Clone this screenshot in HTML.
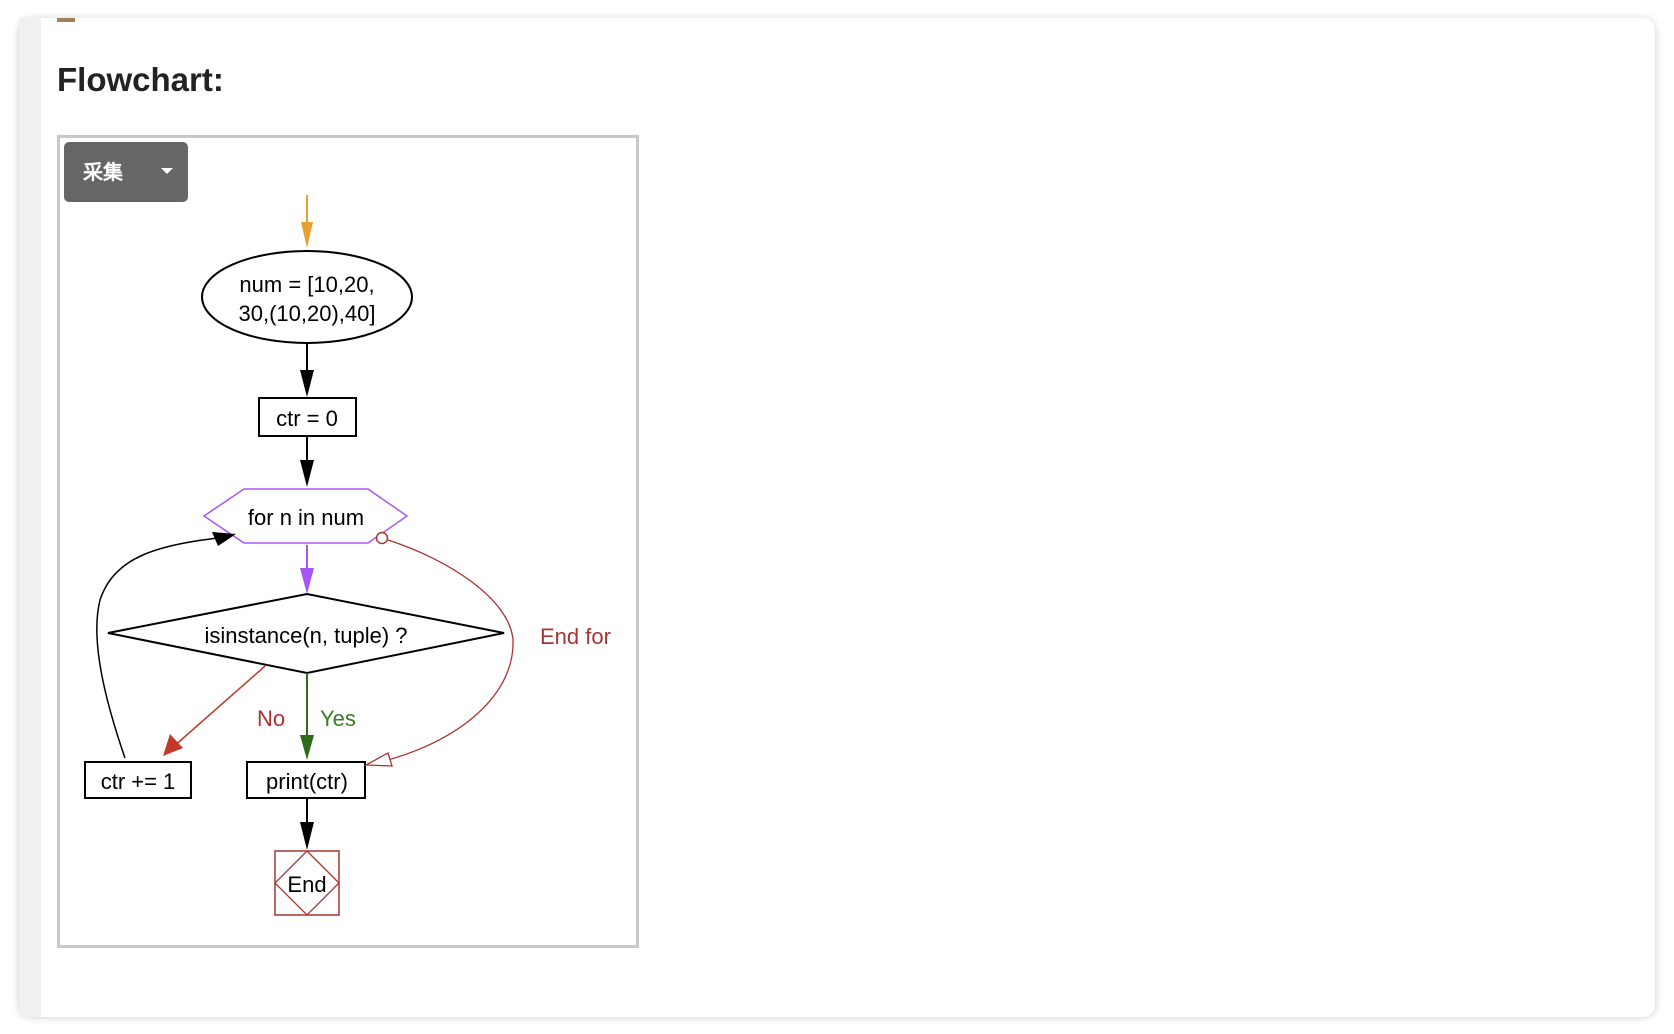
<!DOCTYPE html>
<html><head><meta charset="utf-8"><style>
html,body{margin:0;padding:0;background:#fff;width:1674px;height:1034px;overflow:hidden}
svg{display:block}
text{font-family:"Liberation Sans",Arial,sans-serif}
</style></head><body>
<svg width="1674" height="1034" viewBox="0 0 1674 1034" xmlns="http://www.w3.org/2000/svg">
<defs>
<filter id="sh" x="-5%" y="-5%" width="110%" height="110%"><feGaussianBlur stdDeviation="4"/></filter>
<marker id="ab" viewBox="0 0 10 10" refX="9" refY="5" markerWidth="10" markerHeight="10" markerUnits="userSpaceOnUse" orient="auto"><path d="M0,2 L10,5 L0,8z" fill="#000"/></marker>
</defs>
<rect x="0" y="0" width="1674" height="1034" fill="#fff"/>
<rect x="19" y="19" width="1636" height="998" rx="12" fill="#ccc" filter="url(#sh)"/>
<rect x="19" y="18" width="1636" height="999" rx="12" fill="#fff"/>
<rect x="19" y="18" width="22" height="999" fill="#f0f0f0"/>
<rect x="57" y="18" width="18" height="4" fill="#a0805f"/>
<text x="57" y="91" font-size="33" font-weight="bold" fill="#222">Flowchart:</text>
<rect x="58.5" y="136.5" width="579" height="810" fill="#fff" stroke="#c8c8c8" stroke-width="3"/>
<rect x="64" y="142" width="124" height="60" rx="5" fill="#666"/>
<text x="83" y="179" font-size="20" font-weight="bold" fill="#fff" font-family="'Liberation Sans','Noto Sans CJK SC',sans-serif">采集</text>
<path d="M161,168 L173,168 L167,174z" fill="#fff"/>
<!-- orange arrow -->
<line x1="307" y1="195" x2="307" y2="232" stroke="#e8a030" stroke-width="2"/>
<path d="M301,222 L313,222 L307,248z" fill="#e8a030"/>
<ellipse cx="307" cy="297" rx="105" ry="46" fill="#fff" stroke="#000" stroke-width="2"/>
<text x="307" y="292" font-size="22" text-anchor="middle">num = [10,20,</text>
<text x="307" y="321" font-size="22" text-anchor="middle">30,(10,20),40]</text>
<line x1="307" y1="343" x2="307" y2="380" stroke="#000" stroke-width="2"/>
<path d="M300,370 L314,370 L307,397z" fill="#000"/>
<rect x="259" y="398" width="97" height="38" fill="#fff" stroke="#000" stroke-width="2"/>
<text x="307" y="426" font-size="22" text-anchor="middle">ctr = 0</text>
<line x1="307" y1="436" x2="307" y2="470" stroke="#000" stroke-width="2"/>
<path d="M300,460 L314,460 L307,487z" fill="#000"/>
<path d="M204,516 L244,489 L368,489 L407,516 L368,543 L244,543z" fill="#fff" stroke="#a855f7" stroke-width="1.5"/>
<text x="306" y="525" font-size="22" text-anchor="middle">for n in num</text>
<line x1="307" y1="545" x2="307" y2="578" stroke="#a855f7" stroke-width="2"/>
<path d="M300,568 L314,568 L307,594z" fill="#a855f7"/>
<path d="M108,633 L307,594 L504,633 L307,673z" fill="#fff" stroke="#000" stroke-width="2"/>
<text x="306" y="643" font-size="22" text-anchor="middle">isinstance(n, tuple) ?</text>
<!-- yes -->
<line x1="307" y1="673" x2="307" y2="745" stroke="#2e6b1a" stroke-width="2"/>
<path d="M300,735 L314,735 L307,760z" fill="#2e6b1a"/>
<text x="320" y="726" font-size="22" fill="#3b7a26">Yes</text>
<!-- no -->
<line x1="265" y1="666" x2="172" y2="748" stroke="#c0392b" stroke-width="1.5"/>
<path d="M163,756 L170,734 L183,748z" fill="#c0392b"/>
<text x="257" y="726" font-size="22" fill="#b03030">No</text>
<rect x="247" y="762" width="118" height="36" fill="#fff" stroke="#000" stroke-width="2"/>
<text x="307" y="789" font-size="22" text-anchor="middle">print(ctr)</text>
<rect x="85" y="762" width="106" height="36" fill="#fff" stroke="#000" stroke-width="2"/>
<text x="138" y="789" font-size="22" text-anchor="middle">ctr += 1</text>
<!-- loop back -->
<path d="M125,758 C105,700 90,640 100,600 C115,555 160,545 225,537" fill="none" stroke="#000" stroke-width="1.5"/>
<path d="M236,534 L212,532 L218,546z" fill="#000"/>
<!-- end for -->
<circle cx="382" cy="538" r="5.5" fill="#fff" stroke="#a33" stroke-width="1.5"/>
<path d="M388,540 C450,560 510,600 513,640 C515,700 450,745 380,762" fill="none" stroke="#a33" stroke-width="1.3"/>
<path d="M366,765 L388,753 L392,766z" fill="#fff" stroke="#a33" stroke-width="1.3"/>
<text x="540" y="644" font-size="22" fill="#a33">End for</text>
<line x1="307" y1="799" x2="307" y2="832" stroke="#000" stroke-width="2"/>
<path d="M300,822 L314,822 L307,850z" fill="#000"/>
<rect x="275" y="851" width="64" height="64" fill="#fff" stroke="#a33" stroke-width="1.5"/>
<path d="M307,851 L339,883 L307,915 L275,883z" fill="none" stroke="#a33" stroke-width="1.3"/>
<text x="307" y="892" font-size="22" text-anchor="middle">End</text>
</svg>
</body></html>
